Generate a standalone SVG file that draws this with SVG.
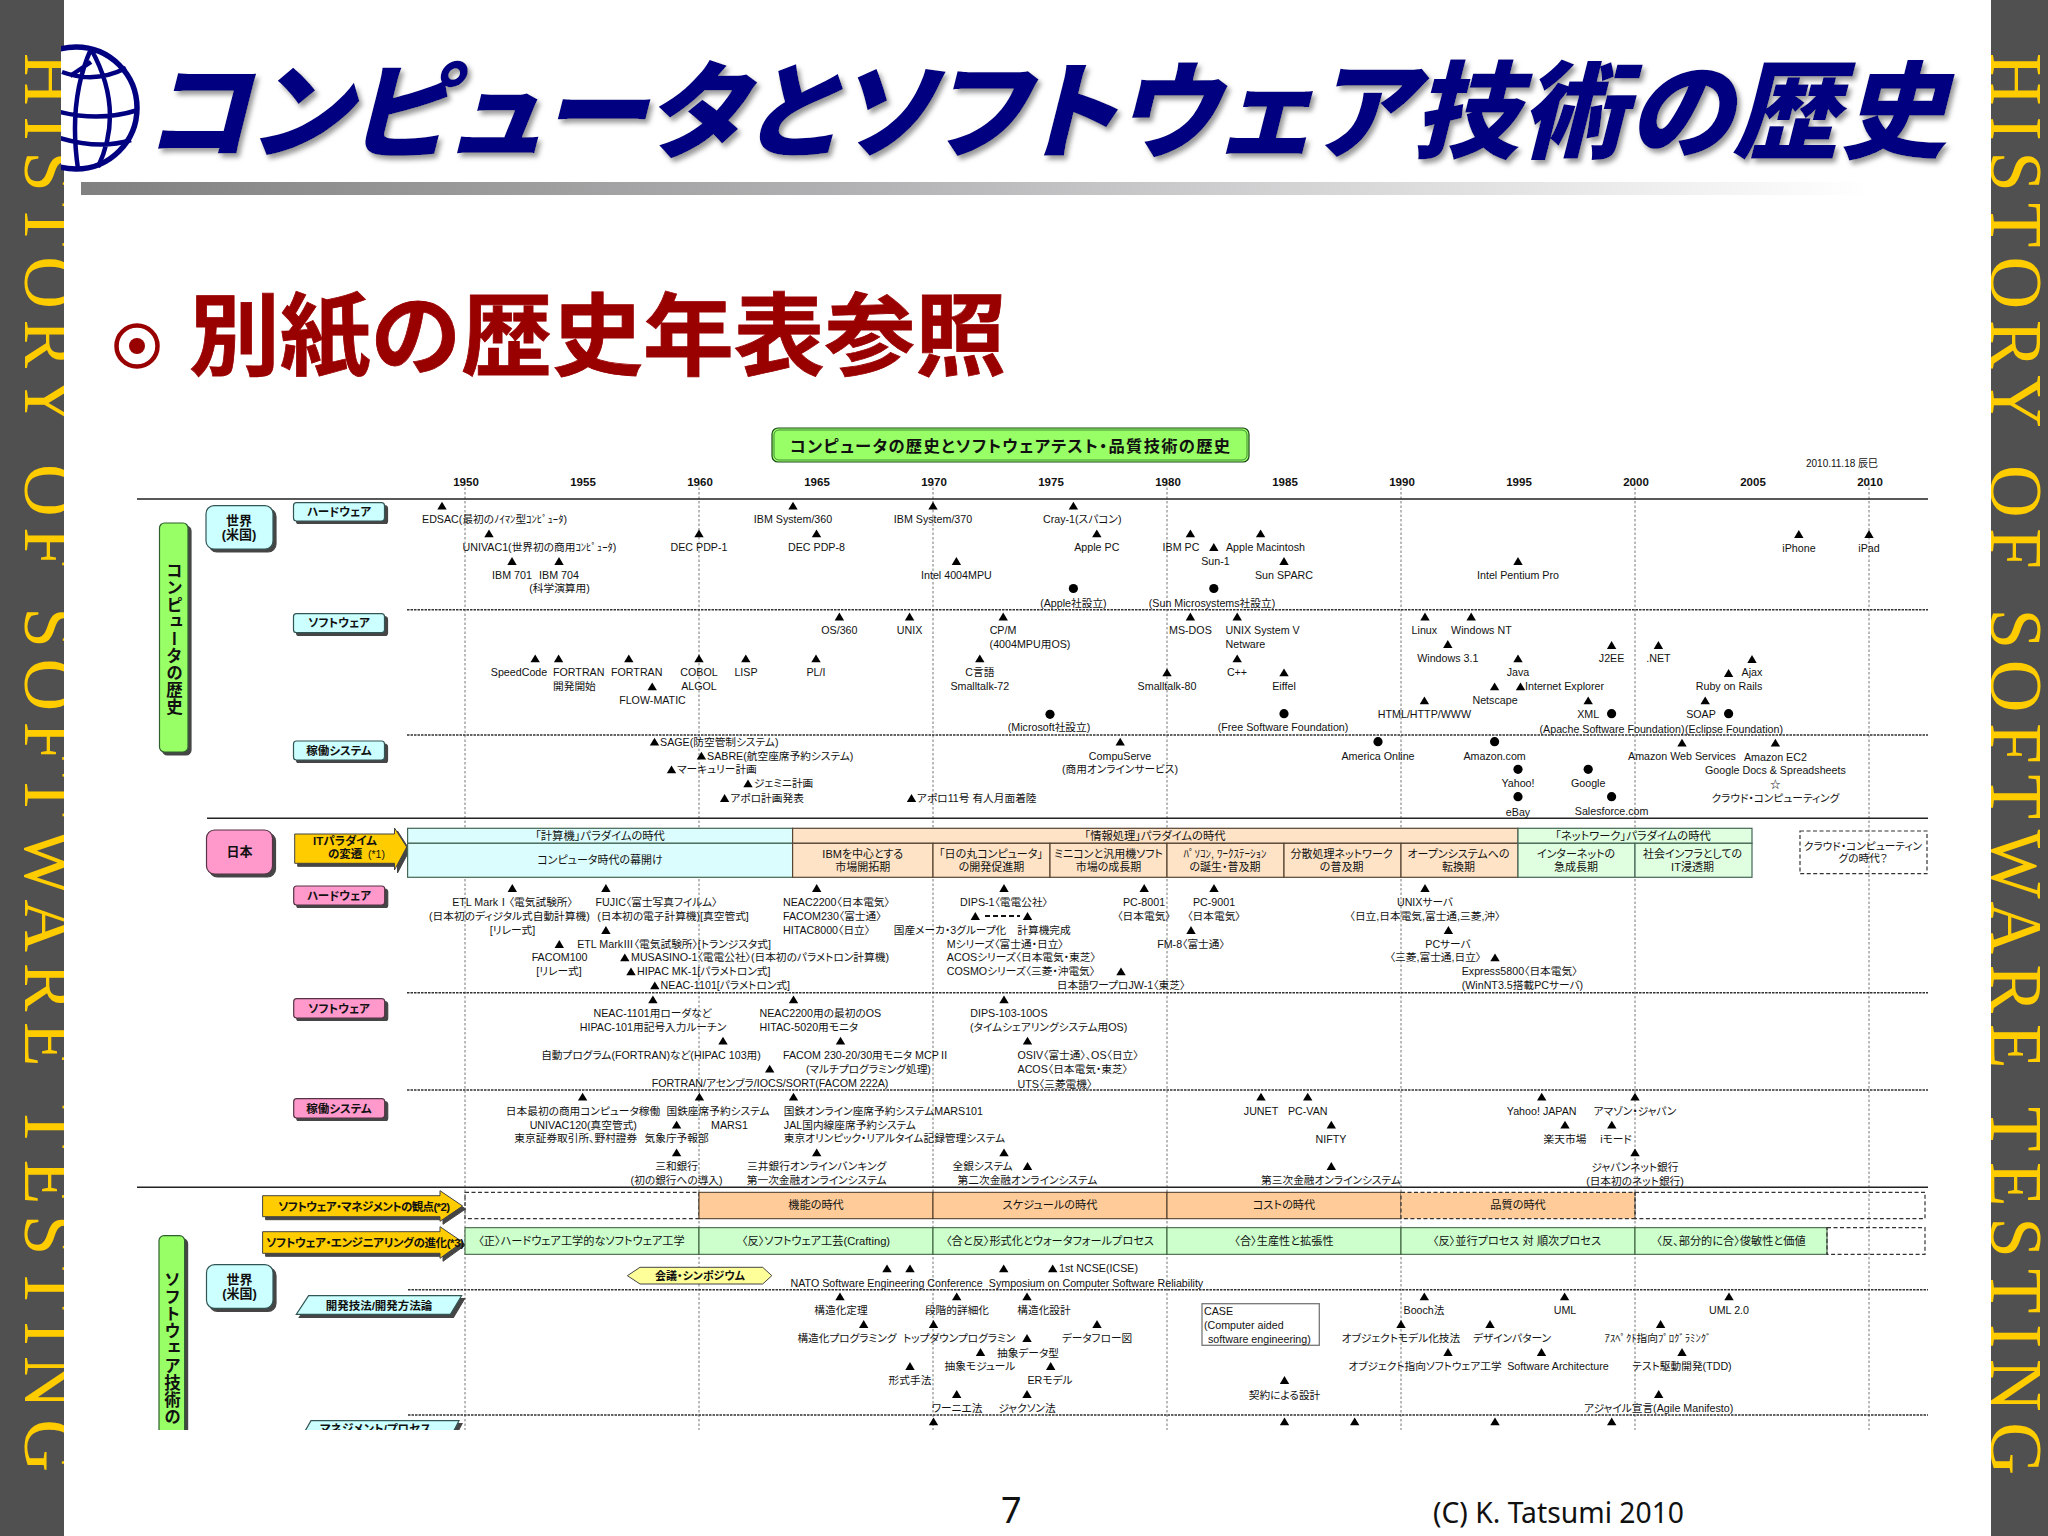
<svg xmlns="http://www.w3.org/2000/svg" width="2048" height="1536" viewBox="0 0 2048 1536">
<style>
.t{font:10.7px "Liberation Sans","Noto Sans CJK JP",sans-serif;font-feature-settings:"palt";fill:#111;text-anchor:middle}
.s{text-anchor:start}
.b{font-weight:700}
.l{font-size:11.5px;font-weight:700}
.y{font-size:11.5px;font-weight:700}
.sh{filter:url(#sh)}
.g{fill:#99ff66;stroke:#2f5f2f;stroke-width:1.2}
.cy{fill:#ccffff;stroke:#335555;stroke-width:1.2}
.pk{fill:#ff99cc;stroke:#553344;stroke-width:1.2}
.ar{fill:#ffcc00;stroke:#444;stroke-width:1}
.h{stroke:#222;stroke-width:1.6;fill:none}
.d{stroke:#333;stroke-width:1.4;stroke-dasharray:2.5 1;fill:none}
.v{stroke:#777;stroke-width:1;stroke-dasharray:2.5 2;fill:none}
.dr{fill:none;stroke:#333;stroke-width:1.2;stroke-dasharray:4 2.5}
.p1{fill:#dcfdfd;stroke:#446655;stroke-width:1.2}
.p2{fill:#ffe3c6;stroke:#554433;stroke-width:1.2}
.p3{fill:#e0ffe0;stroke:#446655;stroke-width:1.2}
.or{fill:#ffcc99;stroke:#443322;stroke-width:1}
.gr{fill:#ccffcc;stroke:#335533;stroke-width:1}
.vt{writing-mode:vertical-rl;font-size:16.5px;font-weight:700;text-anchor:start;font-feature-settings:normal}
.side{font:73px "Liberation Serif",serif;fill:#ffcc00}
.ttl{font:italic 900 106px "Noto Sans CJK JP",sans-serif;font-feature-settings:"palt";fill:#000080}
</style>
<defs>
<filter id="sh" x="-10%" y="-10%" width="125%" height="125%"><feDropShadow dx="3" dy="3" stdDeviation="0.4" flood-color="#444"/></filter>
<filter id="ts" x="-2%" y="-5%" width="104%" height="115%"><feDropShadow dx="3" dy="4" stdDeviation="2.5" flood-color="#999"/></filter>
<linearGradient id="bar"><stop offset="0" stop-color="#808080"/><stop offset="0.45" stop-color="#b4b4b6"/><stop offset="1" stop-color="#fff"/></linearGradient>
<path id="u" d="M0-3.9L4.7 3.9H-4.7Z" fill="#000"/>
<circle id="c" r="4.6" fill="#000"/>
<clipPath id="gc"><rect x="61" y="30" width="90" height="160"/></clipPath>
<clipPath id="top"><rect x="880" y="1328" width="136" height="20"/></clipPath>
</defs>
<rect width="2048" height="1536" fill="#fff"/>
<g id="side-bars">
<rect x="0" y="0" width="64" height="1536" fill="#505050"/>
<rect x="1991" y="0" width="57" height="1536" fill="#505050"/>
<text class="side" transform="translate(25 53) rotate(90)" textLength="1419" lengthAdjust="spacing">HISTORY OF SOFTWARE TESTING</text>
<text class="side" transform="translate(1991 53) rotate(90)" textLength="1422" lengthAdjust="spacing">HISTORY OF SOFTWARE TESTING</text>
<rect x="64" y="0" width="1927" height="1536" fill="#fff"/>
</g>
<g id="header">
<text class="ttl" x="146" y="150" textLength="1800" lengthAdjust="spacing" filter="url(#ts)">コンピュータとソフトウェア技術の歴史</text>
<rect x="81" y="182" width="1790" height="13" fill="url(#bar)"/>
<g id="globe" clip-path="url(#gc)" fill="none" stroke="#000080" stroke-width="4.5">
<circle cx="76" cy="108" r="61" fill="#fff" stroke-width="5.5"/>
<path d="M62 72Q95 84 126 68M60 112Q100 122 138 110M60 138Q100 150 131 140M91 49Q125 110 98 167M91 49Q68 100 78 169M91 62L70 76"/>
</g>
<circle cx="137" cy="346" r="20.5" fill="none" stroke="#990000" stroke-width="4.5"/>
<circle cx="137" cy="346" r="8" fill="#990000"/>
<text x="189" y="368" font-family="'Noto Sans CJK JP',sans-serif" font-size="90" font-weight="700" fill="#990000" stroke="#990000" stroke-width=".8" textLength="817" lengthAdjust="spacingAndGlyphs">別紙の歴史年表参照</text>
</g>
<g id="connectors">
<path class="v" d="M465 483V1430M699 483V1430M933 483V1430M1167 483V1430M1401 483V1430M1635 483V1430M1869 483V1430"/>
<path class="h" d="M137 499H1928M207 818.3H1928M137 1187.3H1928"/>
<path class="d" d="M407 609.7H1928M407 735H1928M407 992.7H1928M407 1090H1928M408 1289.7H1928M408 1415H1928"/>
<path d="M985 916H1020" stroke="#111" stroke-width="1.8" stroke-dasharray="5 3" fill="none"/>
</g>
<g class="t">
<g id="title-box"><rect x="772" y="428" width="477" height="34" rx="6" fill="#99ff66" stroke="#1a4a1a" stroke-width="1.2"/><rect x="774" y="430" width="473" height="30" rx="5" fill="none" stroke="#2f6f2f" stroke-width="0.8"/><text x="1010" y="451.5" font-size="16.3" class="b" textLength="440">コンピュータの歴史とソフトウェアテスト・品質技術の歴史</text></g>
<g id="years" class="y">
<text x="466" y="486">1950</text><text x="583" y="486">1955</text><text x="700" y="486">1960</text><text x="817" y="486">1965</text><text x="934" y="486">1970</text><text x="1051" y="486">1975</text><text x="1168" y="486">1980</text><text x="1285" y="486">1985</text><text x="1402" y="486">1990</text><text x="1519" y="486">1995</text><text x="1636" y="486">2000</text><text x="1753" y="486">2005</text><text x="1870" y="486">2010</text>
</g>
<text x="1842" y="467" font-size="10">2010.11.18 辰巳</text>

<g id="cat-computer"><rect class="g sh" x="159.5" y="523" width="28.5" height="229" rx="5"/><text class="vt" x="173.5" y="562" letter-spacing=".5">コンピュータの歴史</text></g>
<g id="world-1"><rect class="cy sh" x="206" y="505.7" width="67" height="43.3" rx="8"/><text class="b" font-size="13" x="239" y="524.5">世界</text><text class="b" font-size="13" x="239" y="539">(米国)</text></g>
<g id="lbl-w-hw"><rect class="cy sh" x="293.5" y="502.7" width="91" height="18.3" rx="3"/><text class="l" x="339" y="515.5">ハードウェア</text></g>
<g id="lbl-w-sw"><rect class="cy sh" x="293.5" y="613.7" width="91" height="19" rx="3"/><text class="l" x="339" y="627">ソフトウェア</text></g>
<g id="lbl-w-op"><rect class="cy sh" x="293.5" y="741" width="91" height="19" rx="3"/><text class="l" x="339" y="754.5">稼働システム</text></g>

<g id="world-hardware">
<use href="#u" x="442" y="505.7"/><text class="s" x="422" y="523.4">EDSAC(最初のﾉｲﾏﾝ型ｺﾝﾋﾟｭｰﾀ)</text>
<use href="#u" x="489" y="533.3"/><text class="s" x="462.6" y="550.8">UNIVAC1(世界初の商用ｺﾝﾋﾟｭｰﾀ)</text>
<use href="#u" x="512" y="561"/><text x="512" y="578.8">IBM 701</text>
<use href="#u" x="559" y="561"/><text x="559" y="578.8">IBM 704</text><text x="559.5" y="592.3">(科学演算用)</text>
<use href="#u" x="793" y="505.7"/><text x="793" y="523.4">IBM System/360</text>
<use href="#u" x="699" y="533.3"/><text x="699" y="550.8">DEC PDP-1</text>
<use href="#u" x="816.5" y="533.3"/><text x="816.5" y="550.8">DEC PDP-8</text>
<use href="#u" x="933" y="505.7"/><text x="933" y="523.4">IBM System/370</text>
<use href="#u" x="956.4" y="561"/><text x="956.4" y="578.8">Intel 4004MPU</text>
<use href="#u" x="1073.4" y="505.7"/><text class="s" x="1043" y="523.4">Cray-1(スパコン)</text>
<use href="#u" x="1096.8" y="533.3"/><text x="1096.8" y="550.8">Apple PC</text>
<use href="#c" x="1073.4" y="588.5"/><text x="1073.4" y="606.8">(Apple社設立)</text>
<use href="#u" x="1190.4" y="533.3"/><text x="1181" y="550.8">IBM PC</text>
<use href="#u" x="1213.8" y="547"/><text x="1215.5" y="564.8">Sun-1</text>
<use href="#u" x="1260.6" y="533.3"/><text x="1265.5" y="550.8">Apple Macintosh</text>
<use href="#u" x="1284" y="561"/><text x="1284" y="578.8">Sun SPARC</text>
<use href="#c" x="1213.8" y="588.5"/><text x="1212" y="606.8">(Sun Microsystems社設立)</text>
<use href="#u" x="1518" y="561"/><text x="1518" y="578.8">Intel Pentium Pro</text>
<use href="#u" x="1798.8" y="534"/><text x="1799" y="551.8">iPhone</text>
<use href="#u" x="1869" y="534"/><text x="1869" y="551.8">iPad</text>
</g>
<g id="world-software">
<use href="#u" x="535.2" y="658.3"/><text x="519" y="676.1">SpeedCode</text>
<use href="#u" x="558.6" y="658.3"/><text class="s" x="553" y="676.1">FORTRAN</text><text class="s" x="553" y="690.1">開発開始</text>
<use href="#u" x="628.8" y="658.3"/><text class="s" x="611" y="676.1">FORTRAN</text>
<use href="#u" x="652.2" y="686.3"/><text x="652.5" y="704.1">FLOW-MATIC</text>
<use href="#u" x="699" y="658.3"/><text x="699" y="676.1">COBOL</text><text x="699" y="690.1">ALGOL</text>
<use href="#u" x="745.8" y="658.3"/><text x="746" y="676.1">LISP</text>
<use href="#u" x="816" y="658.3"/><text x="816" y="676.1">PL/I</text>
<use href="#u" x="839.4" y="616.5"/><text x="839.4" y="634.1">OS/360</text>
<use href="#u" x="909.6" y="616.5"/><text x="909.6" y="634.1">UNIX</text>
<use href="#u" x="1003.2" y="616.5"/><text x="1003" y="634.1">CP/M</text><text x="1030" y="647.8">(4004MPU用OS)</text>
<use href="#u" x="979.8" y="658.3"/><text x="979.8" y="676.1">C言語</text><text x="979.8" y="690.1">Smalltalk-72</text>
<use href="#c" x="1050" y="714.3"/><text x="1049" y="731.3">(Microsoft社設立)</text>
<use href="#u" x="1190.4" y="616.5"/><text x="1190.4" y="634.1">MS-DOS</text>
<use href="#u" x="1237.2" y="616.5"/><text class="s" x="1225.5" y="634.1">UNIX System V</text><text class="s" x="1225.5" y="647.8">Netware</text>
<use href="#u" x="1237.2" y="658.3"/><text x="1237" y="676.1">C++</text>
<use href="#u" x="1167" y="672.3"/><text x="1167" y="690.1">Smalltalk-80</text>
<use href="#u" x="1284" y="672.3"/><text x="1284" y="690.1">Eiffel</text>
<use href="#c" x="1284" y="713.7"/><text x="1283" y="731.3">(Free Software Foundation)</text>
<use href="#u" x="1425" y="616.5"/><text x="1424.4" y="634.1">Linux</text>
<use href="#u" x="1471.2" y="616.5"/><text x="1481.4" y="634.1">Windows NT</text>
<use href="#u" x="1447.8" y="644"/><text x="1447.8" y="662.1">Windows 3.1</text>
<use href="#u" x="1518" y="658.3"/><text x="1518" y="676.1">Java</text>
<use href="#u" x="1494.6" y="686.3"/><text x="1495" y="704.1">Netscape</text>
<use href="#u" x="1520.5" y="686.3"/><text class="s" x="1525" y="690.1">Internet Explorer</text>
<use href="#u" x="1424.4" y="700.3"/><text x="1424.4" y="717.5">HTML/HTTP/WWW</text>
<use href="#u" x="1611.6" y="645"/><text x="1611.6" y="662.1">J2EE</text>
<use href="#u" x="1658.4" y="645"/><text x="1658.4" y="662.1">.NET</text>
<use href="#u" x="1752" y="659"/><text x="1752" y="676.1">Ajax</text>
<use href="#u" x="1728.6" y="673"/><text x="1729" y="690.1">Ruby on Rails</text>
<use href="#u" x="1588.2" y="700.3"/><text x="1588.2" y="717.5">XML</text>
<use href="#c" x="1611.6" y="713.7"/><text x="1612" y="732.5">(Apache Software Foundation)</text>
<use href="#u" x="1705.2" y="700.3"/><text x="1701" y="717.5">SOAP</text>
<use href="#c" x="1728.6" y="713.7"/><text x="1734" y="732.5">(Eclipse Foundation)</text>
</g>
<g id="world-operation">
<use href="#u" x="654.5" y="741.7"/><text class="s" x="660" y="745.5">SAGE(防空管制システム)</text>
<use href="#u" x="701.4" y="755.7"/><text class="s" x="707" y="759.5">SABRE(航空座席予約システム)</text>
<use href="#u" x="671.5" y="769.3"/><text class="s" x="677" y="773.1">マーキュリー計画</text>
<use href="#u" x="748" y="783.3"/><text class="s" x="754" y="787.1">ジェミニ計画</text>
<use href="#u" x="724.6" y="798"/><text class="s" x="730.4" y="801.8">アポロ計画発表</text>
<use href="#u" x="911.5" y="798"/><text class="s" x="917" y="801.8">アポロ11号 有人月面着陸</text>
<use href="#u" x="1120.2" y="741.7"/><text x="1120" y="759.5">CompuServe</text><text x="1120" y="773.1">(商用オンラインサービス)</text>
<use href="#c" x="1378" y="741.7"/><text x="1378" y="759.5">America Online</text>
<use href="#c" x="1494.6" y="741.7"/><text x="1494.6" y="759.5">Amazon.com</text>
<use href="#c" x="1518" y="769.3"/><text x="1518" y="787.1">Yahoo!</text>
<use href="#c" x="1588.2" y="769.3"/><text x="1588.2" y="787.1">Google</text>
<use href="#c" x="1518" y="796.7"/><text x="1518" y="816">eBay</text>
<use href="#c" x="1611.6" y="796.7"/><text x="1611.6" y="814.8">Salesforce.com</text>
<use href="#u" x="1682" y="742.7"/><text x="1682" y="759.5">Amazon Web Services</text>
<use href="#u" x="1775.4" y="742.7"/><text x="1775.4" y="760.5">Amazon EC2</text>
<text x="1775.4" y="774.1">Google Docs &amp; Spreadsheets</text>
<text x="1775.4" y="787.8">☆</text>
<text x="1775.4" y="801.5">クラウド・コンピューティング</text>
</g>

<g id="japan"><rect class="pk sh" x="206.5" y="830" width="66" height="44" rx="8"/><text class="b" font-size="13" x="239.5" y="855.5">日本</text></g>
<g id="it-arrow"><polygon class="ar sh" points="294.7,834 394.5,834 394.5,828 406.7,847 394.5,870 394.5,863.3 294.7,863.3"/><text class="b" font-size="11.5" x="345" y="845">ITパラダイム</text><text class="b s" font-size="11.5" x="328" y="858">の変遷</text><text class="s" font-size="10.5" x="368" y="857.5">(*1)</text></g>
<g id="paradigm" font-size="11">
<rect class="p1" x="407.6" y="828.3" width="385" height="15"/><rect class="p1" x="407.6" y="843.3" width="385" height="34"/>
<rect class="p2" x="792.6" y="828.3" width="725.4" height="15"/>
<rect class="p2" x="792.6" y="843.3" width="140.4" height="34"/><rect class="p2" x="933" y="843.3" width="117" height="34"/><rect class="p2" x="1050" y="843.3" width="117" height="34"/><rect class="p2" x="1167" y="843.3" width="117" height="34"/><rect class="p2" x="1284" y="843.3" width="117" height="34"/><rect class="p2" x="1401" y="843.3" width="117" height="34"/>
<rect class="p3" x="1518" y="828.3" width="234" height="15"/><rect class="p3" x="1518" y="843.3" width="117" height="34"/><rect class="p3" x="1635" y="843.3" width="117" height="34"/>
<text x="600" y="839.8" font-size="11.3">「計算機」パラダイムの時代</text><text x="600" y="863.8">コンピュータ時代の幕開け</text>
<text x="862.8" y="857.5">IBMを中心とする</text><text x="862.8" y="870.5">市場開拓期</text>
<text x="1155" y="839.8" font-size="11.3">「情報処理」パラダイムの時代</text>
<text x="991" y="857.5">「日の丸コンピュータ」</text><text x="991.5" y="870.5">の開発促進期</text>
<text x="1108.5" y="857.5">ミニコンと汎用機ソフト</text><text x="1108.5" y="870.5">市場の成長期</text>
<text x="1225" y="857.5">ﾊﾟｿｺﾝ, ﾜｰｸｽﾃｰｼｮﾝ</text><text x="1225" y="870.5">の誕生・普及期</text>
<text x="1341.6" y="857.5">分散処理ネットワーク</text><text x="1341.6" y="870.5">の普及期</text>
<text x="1458.5" y="857.5">オープンシステムへの</text><text x="1458.5" y="870.5">転換期</text>
<text x="1633" y="839.8" font-size="11.3">「ネットワーク」パラダイムの時代</text>
<text x="1576" y="857.5">インターネットの</text><text x="1576" y="870.5">急成長期</text>
<text x="1692.5" y="857.5">社会インフラとしての</text><text x="1692.5" y="870.5">IT浸透期</text>
</g>
<g id="cloud-box"><rect class="dr" x="1800" y="831" width="127" height="42.7"/><text x="1863" y="849.8">クラウド・コンピューティン</text><text x="1863" y="862.1">グの時代？</text></g>
<g id="lbl-j-hw"><rect class="pk sh" x="293.7" y="886" width="91" height="19" rx="3"/><text class="l" x="339" y="899.5">ハードウェア</text></g>
<g id="lbl-j-sw"><rect class="pk sh" x="293.7" y="998.7" width="91" height="19.3" rx="3"/><text class="l" x="339" y="1012.5">ソフトウェア</text></g>
<g id="lbl-j-op"><rect class="pk sh" x="293.7" y="1098.7" width="91" height="19.3" rx="3"/><text class="l" x="339" y="1112.5">稼働システム</text></g>

<g id="japan-hardware">
<use href="#u" x="512.3" y="888"/><text x="512.5" y="905.8">ETL MarkⅠ〈電気試験所〉</text><text x="509.4" y="919.8">(日本初のディジタル式自動計算機)</text><text x="512.5" y="933.8">[リレー式]</text>
<use href="#u" x="605.9" y="888"/><text x="656.5" y="905.8">FUJIC〈富士写真フイルム〉</text><text x="673" y="919.8">(日本初の電子計算機)[真空管式]</text>
<use href="#u" x="605.9" y="930"/><text x="674" y="947.8">ETL MarkⅢ〈電気試験所〉[トランジスタ式]</text>
<use href="#u" x="559.3" y="944"/><text x="559.6" y="961.1">FACOM100</text><text x="559" y="975.1">[リレー式]</text>
<use href="#u" x="624.8" y="957.3"/><text class="s" x="631" y="961.1">MUSASINO-1〈電電公社〉(日本初のパラメトロン計算機)</text>
<use href="#u" x="631" y="971.3"/><text class="s" x="637" y="975.1">HIPAC MK-1[パラメトロン式]</text>
<use href="#u" x="654.8" y="985.3"/><text class="s" x="660.6" y="989.1">NEAC-1101[パラメトロン式]</text>
<use href="#u" x="816.7" y="888"/><text class="s" x="783" y="905.8">NEAC2200〈日本電気〉</text><text class="s" x="783" y="919.8">FACOM230〈富士通〉</text><text class="s" x="783" y="933.8">HITAC8000〈日立〉</text>
<text class="s" x="893.8" y="933.8">国産メーカ・3グループ化</text>
<use href="#u" x="1004" y="888"/><text x="1004" y="905.8">DIPS-1〈電電公社〉</text>
<use href="#u" x="975.3" y="916"/><use href="#u" x="1027.5" y="916"/><text x="1044" y="933.8">計算機完成</text>
<text class="s" x="946.8" y="947.8">Mシリーズ〈富士通・日立〉</text><text class="s" x="946.8" y="961.1">ACOSシリーズ〈日本電気・東芝〉</text><text class="s" x="946.8" y="975.1">COSMOシリーズ〈三菱・沖電気〉</text>
<use href="#u" x="1121" y="971.3"/><text x="1121" y="989.1">日本語ワープロJW-1〈東芝〉</text>
<use href="#u" x="1144.2" y="888"/><text x="1144" y="905.8">PC-8001</text><text x="1144" y="919.8">〈日本電気〉</text>
<use href="#u" x="1214" y="888"/><text x="1214" y="905.8">PC-9001</text><text x="1214" y="919.8">〈日本電気〉</text>
<use href="#u" x="1191" y="930"/><text x="1191" y="947.8">FM-8〈富士通〉</text>
<use href="#u" x="1425" y="888"/><text x="1425" y="905.8">UNIXサーバ</text><text x="1425" y="919.8">〈日立,日本電気,富士通,三菱,沖〉</text>
<use href="#u" x="1448.4" y="930"/><text x="1448" y="947.8">PCサーバ</text><text x="1435.5" y="961.1">〈三菱,富士通,日立〉</text>
<use href="#u" x="1495" y="957.3"/><text class="s" x="1461.7" y="975.1">Express5800〈日本電気〉</text><text class="s" x="1461.7" y="989.1">(WinNT3.5搭載PCサーバ)</text>
</g>
<g id="japan-software">
<use href="#u" x="652.9" y="999.3"/><text x="652.5" y="1017.1">NEAC-1101用ローダなど</text><text x="653" y="1031.1">HIPAC-101用記号入力ルーチン</text>
<use href="#u" x="793.5" y="999.3"/><text class="s" x="759.5" y="1017.1">NEAC2200用の最初のOS</text><text class="s" x="759.5" y="1031.1">HITAC-5020用モニタ</text>
<use href="#u" x="723" y="1040.7"/><text x="651" y="1058.5">自動プログラム(FORTRAN)など(HIPAC 103用)</text>
<use href="#u" x="840.5" y="1040.7"/><text class="s" x="783" y="1058.5">FACOM 230-20/30用モニタ MCPⅡ</text><text x="868.4" y="1072.5">(マルチプログラミング処理)</text>
<use href="#u" x="769.7" y="1068.7"/><text x="770" y="1086.5">FORTRAN/アセンブラ/IOCS/SORT(FACOM 222A)</text>
<use href="#u" x="1004" y="999.3"/><text class="s" x="970.3" y="1017.1">DIPS-103-10OS</text><text class="s" x="970" y="1031.1">(タイムシェアリングシステム用OS)</text>
<use href="#u" x="1027.5" y="1040.7"/><text class="s" x="1017.5" y="1058.5">OSIV〈富士通〉、OS〈日立〉</text><text class="s" x="1017.5" y="1072.5">ACOS〈日本電気・東芝〉</text><text class="s" x="1017.5" y="1087.5">UTS〈三菱電機〉</text>
</g>
<g id="japan-operation">
<use href="#u" x="582.6" y="1096.7"/><text x="583" y="1114.5">日本最初の商用コンピュータ稼働</text><text x="583.3" y="1128.5">UNIVAC120(真空管式)</text><text x="575.8" y="1142.1">東京証券取引所、野村證券</text>
<use href="#u" x="699.4" y="1096.7"/><text x="718" y="1114.5">国鉄座席予約システム</text><text x="729.5" y="1128.5">MARS1</text>
<use href="#u" x="676.6" y="1124.7"/><text x="676.6" y="1142.1">気象庁予報部</text>
<use href="#u" x="676.6" y="1152.3"/><text x="676.6" y="1169.8">三和銀行</text><text x="676.6" y="1183.8">(初の銀行への導入)</text>
<use href="#u" x="793.5" y="1096.7"/><text class="s" x="783.8" y="1114.5">国鉄オンライン座席予約システムMARS101</text><text class="s" x="783.8" y="1128.5">JAL国内線座席予約システム</text><text class="s" x="783.8" y="1142.1">東京オリンピック・リアルタイム記録管理システム</text>
<use href="#u" x="816.7" y="1152.3"/><text x="816.7" y="1169.8">三井銀行オンラインバンキング</text><text x="816.7" y="1183.8">第一次金融オンラインシステム</text>
<use href="#u" x="1004" y="1152.3"/><text x="982.6" y="1169.8">全銀システム</text>
<use href="#u" x="1027.5" y="1166"/><text x="1027.5" y="1183.8">第二次金融オンラインシステム</text>
<use href="#u" x="1261" y="1096.7"/><text x="1261" y="1114.5">JUNET</text>
<use href="#u" x="1307.7" y="1096.7"/><text x="1307.7" y="1114.5">PC-VAN</text>
<use href="#u" x="1331.3" y="1124.7"/><text x="1331" y="1143">NIFTY</text>
<use href="#u" x="1331.3" y="1166"/><text x="1331" y="1183.8">第三次金融オンラインシステム</text>
<use href="#u" x="1541.7" y="1096.7"/><text x="1541.7" y="1115.2">Yahoo! JAPAN</text>
<use href="#u" x="1635" y="1096.7"/><text x="1635" y="1114.5">アマゾン・ジャパン</text>
<use href="#u" x="1565" y="1124.7"/><text x="1565" y="1143">楽天市場</text>
<use href="#u" x="1611.8" y="1124.7"/><text x="1616" y="1143">iモード</text>
<use href="#u" x="1635" y="1152.3"/><text x="1635" y="1170.8">ジャパンネット銀行</text><text x="1635" y="1184.8">(日本初のネット銀行)</text>
</g>

<g id="mgmt-arrow"><polygon class="ar sh" points="262.6,1195.7 440,1195.7 440,1190.7 462.6,1206 440,1221.3 440,1216.7 262.6,1216.7"/><text class="b" x="364" y="1210.5" textLength="172" font-size="11.5">ソフトウェア・マネジメントの観点(*2)</text></g>
<g id="eng-arrow"><polygon class="ar sh" points="262.6,1231.7 440,1231.7 440,1226.7 462.6,1242 440,1258.3 440,1253.3 262.6,1253.3"/><text class="b" x="365" y="1246.5" textLength="198" font-size="11.5">ソフトウェア・エンジニアリングの進化(*3)</text></g>
<g id="mgmt-row" font-size="11.2">
<rect class="dr" x="465" y="1192.3" width="234" height="26.4"/>
<rect class="or" x="699" y="1192.3" width="234" height="26.4"/><rect class="or" x="933" y="1192.3" width="234" height="26.4"/><rect class="or" x="1167" y="1192.3" width="234" height="26.4"/>
<rect x="1401" y="1192.3" width="234" height="26.4" fill="#ffcc99"/><rect class="dr" x="1401" y="1192.3" width="234" height="26.4"/>
<rect class="dr" x="1635" y="1192.3" width="290" height="26.4"/>
<text x="816" y="1209">機能の時代</text><text x="1050" y="1209">スケジュールの時代</text><text x="1284" y="1209">コストの時代</text><text x="1518" y="1209">品質の時代</text>
</g>
<g id="eng-row" font-size="11.2">
<rect class="gr" x="465" y="1227.7" width="234" height="26.6"/><rect class="gr" x="699" y="1227.7" width="234" height="26.6"/><rect class="gr" x="933" y="1227.7" width="234" height="26.6"/><rect class="gr" x="1167" y="1227.7" width="234" height="26.6"/><rect class="gr" x="1401" y="1227.7" width="234" height="26.6"/><rect class="gr" x="1635" y="1227.7" width="192" height="26.6"/>
<rect class="dr" x="1827" y="1227.7" width="98" height="26.6"/>
<text x="581.5" y="1245">〈正〉ハードウェア工学的なソフトウェア工学</text><text x="816" y="1245">〈反〉ソフトウェア工芸(Crafting)</text><text x="1050" y="1245">〈合と反〉形式化とウォータフォールプロセス</text><text x="1284" y="1245">〈合〉生産性と拡張性</text><text x="1517" y="1245">〈反〉並行プロセス 対 順次プロセス</text><text x="1731" y="1245">〈反、部分的に合〉俊敏性と価値</text>
</g>
<g id="cat-software"><rect class="g sh" x="159" y="1235.7" width="25.6" height="210" rx="5"/><text class="vt" x="171.5" y="1271" letter-spacing=".7">ソフトウェア技術の</text></g>
<g id="world-2"><rect class="cy sh" x="206.5" y="1264.7" width="66.5" height="43.6" rx="8"/><text class="b" font-size="13" x="239.5" y="1283.5">世界</text><text class="b" font-size="13" x="239.5" y="1297.5">(米国)</text></g>
<g id="lbl-dev"><polygon class="cy sh" points="308.6,1295.7 461.6,1295.7 450.4,1314.3 296.3,1314.3"/><text class="l" x="379" y="1309.5">開発技法/開発方法論</text></g>
<g id="lbl-mgmt"><polygon class="cy sh" points="311,1420.7 459,1420.7 449,1440 300,1440"/><text class="l" x="375.5" y="1433">マネジメント/プロセス</text></g>
<g id="symposium"><polygon points="627.4,1275.7 640,1267.3 762.7,1267.3 771.8,1275.7 762.7,1284 640,1284" fill="#ffff99" stroke="#444" stroke-width="1"/><text class="b" x="700" y="1280" font-size="11">会議・シンポジウム</text></g>
<g id="case-box"><rect x="1202" y="1303.7" width="117.3" height="41.6" fill="#fff" stroke="#777" stroke-width="1.3"/><text class="s" x="1204" y="1314.5">CASE</text><text class="s" x="1204" y="1328.5">(Computer aided</text><text class="s" x="1208" y="1342.5">software engineering)</text></g>

<g id="software-world">
<use href="#u" x="887" y="1268.3"/><use href="#u" x="910" y="1268.3"/><text x="886.6" y="1286.5">NATO Software Engineering Conference</text>
<use href="#u" x="1003.7" y="1268.3"/><text x="1096" y="1286.5">Symposium on Computer Software Reliability</text>
<use href="#u" x="1052.7" y="1268.3"/><text class="s" x="1059" y="1272.1">1st NCSE(ICSE)</text>
<use href="#u" x="840" y="1296.3"/><text x="841" y="1314.1">構造化定理</text>
<use href="#u" x="863.7" y="1324"/><text x="847" y="1341.8">構造化プログラミング</text>
<use href="#u" x="956.7" y="1296.3"/><text x="957" y="1314.1">段階的詳細化</text>
<use href="#u" x="1027" y="1296.3"/><text x="1044" y="1314.1">構造化設計</text>
<use href="#u" x="933.5" y="1324"/><g clip-path="url(#top)"><text class="s" x="903" y="1341.8" textLength="122">トップダウンプログラミング</text></g>
<use href="#u" x="1027" y="1338"/>
<use href="#u" x="1097" y="1324"/><text x="1097" y="1341.8">データフロー図</text>
<use href="#u" x="980.5" y="1352"/><text class="s" x="997" y="1356.5">抽象データ型</text><text x="980" y="1369.8">抽象モジュール</text>
<use href="#u" x="1050.7" y="1366"/><text x="1050" y="1383.8">ERモデル</text>
<use href="#u" x="910" y="1366"/><text x="910" y="1383.8">形式手法</text>
<use href="#u" x="956.7" y="1394"/><text x="957" y="1411.8">ワーニエ法</text>
<use href="#u" x="1027" y="1394"/><text x="1027" y="1411.8">ジャクソン法</text>
<use href="#u" x="1284.5" y="1380"/><text x="1284.5" y="1398.5">契約による設計</text>
<use href="#u" x="1424.3" y="1296.3"/><text x="1424" y="1314.1">Booch法</text>
<use href="#u" x="1401" y="1324"/><text x="1401" y="1341.8">オブジェクトモデル化技法</text>
<use href="#u" x="1490" y="1324"/><text x="1512" y="1341.8">デザインパターン</text>
<use href="#u" x="1448" y="1352"/><text x="1425" y="1369.8">オブジェクト指向ソフトウェア工学</text>
<use href="#u" x="1541.5" y="1352"/><text x="1558" y="1369.8">Software Architecture</text>
<use href="#u" x="1564.6" y="1296.3"/><text x="1565" y="1314.1">UML</text>
<use href="#u" x="1729" y="1296.3"/><text x="1729" y="1314.1">UML 2.0</text>
<use href="#u" x="1660.6" y="1324"/><text x="1658" y="1341.8">ｱｽﾍﾟｸﾄ指向ﾌﾟﾛｸﾞﾗﾐﾝｸﾞ</text>
<use href="#u" x="1682" y="1352"/><text x="1682" y="1369.8">テスト駆動開発(TDD)</text>
<use href="#u" x="1658.7" y="1394"/><text x="1658.7" y="1411.8">アジャイル宣言(Agile Manifesto)</text>
<use href="#u" x="933.5" y="1421.3"/><use href="#u" x="1284.5" y="1421.3"/><use href="#u" x="1354.7" y="1421.3"/><use href="#u" x="1495" y="1421.3"/><use href="#u" x="1611.7" y="1421.3"/>
</g>
</g>
<rect x="130" y="1430" width="1810" height="60" fill="#fff"/>
<g id="footer">
<text x="1001" y="1523" font-family="'Noto Sans',sans-serif" font-size="36" fill="#111">7</text>
<text x="1433" y="1523" font-family="'Noto Sans',sans-serif" font-size="29" fill="#111" textLength="251" lengthAdjust="spacingAndGlyphs">(C) K. Tatsumi 2010</text>
</g>
</svg>
